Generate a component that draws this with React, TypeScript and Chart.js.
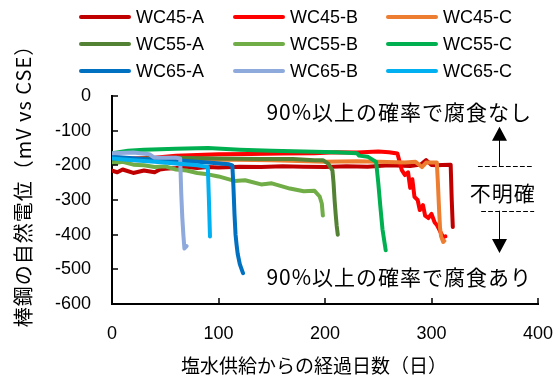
import React, { useEffect, useRef } from "react";
import { Chart, registerables } from "chart.js";

Chart.register(...registerables);

// ---- data (days since salt-water supply, half-cell potential mV vs CSE) ----
const seriesLabels = ["WC45-A", "WC45-B", "WC45-C", "WC55-A", "WC55-B", "WC55-C", "WC65-A", "WC65-B", "WC65-C"];
const seriesColors = ["#C00000", "#FF0000", "#ED7D31", "#548235", "#70AD47", "#00B050", "#0070C0", "#8EA9DB", "#00B0F0"];

const wc45aDay = [0, 5, 10, 20, 30, 40, 45, 50, 60, 70, 80, 90, 100, 120, 140, 160, 180, 200, 220, 240, 260, 280, 290, 295, 300, 305, 310, 318, 319, 320];
const wc45aMv = [-215, -220, -212, -222, -215, -220, -212, -210, -208, -205, -208, -205, -206, -204, -205, -203, -204, -205, -203, -204, -200, -202, -198, -185, -199, -200, -199, -198, -300, -378];

const wc45bDay = [0, 20, 40, 60, 80, 100, 130, 160, 190, 210, 230, 250, 260, 268, 272, 275, 278, 280, 282, 284, 287, 289, 292, 294, 297, 300, 303, 305, 308, 311, 313];
const wc45bMv = [-185, -180, -178, -172, -170, -168, -167, -166, -165, -162, -163, -160, -162, -166, -213, -228, -220, -265, -240, -291, -300, -329, -315, -345, -352, -340, -365, -372, -390, -407, -405];

const wc45cDay = [0, 50, 100, 150, 200, 230, 250, 275, 285, 291, 295, 300, 305, 306, 307, 308, 309, 311, 312];
const wc45cMv = [-185, -185, -183, -185, -190, -188, -190, -192, -190, -205, -192, -192, -192, -250, -320, -380, -405, -421, -418];

const wc55aDay = [0, 30, 60, 100, 140, 170, 190, 198, 203, 207, 208, 209, 210, 211, 212];
const wc55aMv = [-185, -180, -178, -180, -182, -182, -185, -185, -195, -215, -250, -300, -340, -375, -400];

const wc55bDay = [0, 10, 20, 30, 40, 50, 60, 70, 80, 90, 100, 115, 125, 140, 150, 167, 180, 190, 195, 197, 198];
const wc55bMv = [-195, -190, -198, -200, -205, -203, -212, -215, -222, -226, -232, -245, -243, -255, -252, -267, -275, -273, -290, -310, -345];

const wc55cDay = [0, 15, 30, 60, 90, 120, 150, 180, 210, 230, 232, 240, 248, 250, 252, 254, 257];
const wc55cMv = [-165, -158, -155, -152, -150, -155, -158, -160, -162, -165, -172, -175, -190, -250, -320, -385, -445];

const wc65aDay = [0, 30, 60, 90, 110, 113, 114, 115, 116, 117, 118, 120, 123];
const wc65aMv = [-175, -182, -185, -192, -197, -200, -260, -340, -400, -430, -455, -485, -511];

const wc65bDay = [0, 20, 35, 40, 60, 64, 65, 66, 67, 68, 70];
const wc65bMv = [-165, -163, -168, -178, -178, -180, -280, -350, -400, -440, -433];

const wc65cDay = [0, 20, 40, 60, 80, 90, 91, 92];
const wc65cMv = [-180, -185, -190, -195, -200, -205, -300, -405];

const seriesDays = [wc45aDay, wc45bDay, wc45cDay, wc55aDay, wc55bDay, wc55cDay, wc65aDay, wc65bDay, wc65cDay];
const seriesMv = [wc45aMv, wc45bMv, wc45cMv, wc55aMv, wc55bMv, wc55cMv, wc65aMv, wc65bMv, wc65cMv];

const xTickStep = 100;
const yTickStep = 100;

const yTitle = "棒鋼の自然電位（mV vs CSE）";
const xTitle = "塩水供給からの経過日数（日）";
const noteSafe = "90%以上の確率で腐食なし";
const noteRisk = "90%以上の確率で腐食あり";
const noteUnclear = "不明確";
// thresholds (mV)
const upperThreshold = -202;
const lowerThreshold = -332;

const LATIN = "'Liberation Sans', Arial, sans-serif";
const CJK = "'Noto Sans CJK JP', sans-serif";

const decorPlugin = {
  id: "decor",
  afterDraw(chart: any) {
    const { ctx, chartArea, scales } = chart;
    const xs = scales.x;
    const ys = scales.y;
    ctx.save();
    // inside tick marks
    ctx.strokeStyle = "#000";
    ctx.lineWidth = 1.5;
    for (let v = 0; v >= -600; v -= yTickStep) {
      const py = Math.round(ys.getPixelForValue(v));
      ctx.beginPath();
      ctx.moveTo(chartArea.left, py);
      ctx.lineTo(chartArea.left + 6, py);
      ctx.stroke();
    }
    for (let d = 0; d <= 400; d += xTickStep) {
      const px = Math.round(xs.getPixelForValue(d));
      ctx.beginPath();
      ctx.moveTo(px, chartArea.bottom);
      ctx.lineTo(px, chartArea.bottom - 6);
      ctx.stroke();
    }

    // legend (3 x 3 grid)
    const colX = [80, 234, 387];
    ctx.font = `18px ${LATIN}`;
    ctx.textBaseline = "middle";
    ctx.textAlign = "left";
    seriesLabels.forEach((lab, i) => {
      const cx = colX[i % 3];
      const cy = 17 + Math.floor(i / 3) * 27;
      ctx.strokeStyle = seriesColors[i];
      ctx.lineWidth = 4;
      ctx.lineCap = "round";
      ctx.beginPath();
      ctx.moveTo(cx + 1, cy);
      ctx.lineTo(cx + 49, cy);
      ctx.stroke();
      ctx.fillStyle = "#000";
      ctx.fillText(lab, cx + 56, cy + 1);
    });

    // axis titles
    ctx.fillStyle = "#000";
    ctx.font = `19px ${CJK}`;
    ctx.textAlign = "center";
    ctx.textBaseline = "middle";
    ctx.fillText(xTitle, 314, 366);
    ctx.save();
    ctx.translate(23, 181);
    ctx.rotate(-Math.PI / 2);
    ctx.font = `20px ${CJK}`;
    (ctx as any).letterSpacing = "1px";
    ctx.fillText(yTitle, 0, 0);
    ctx.restore();

    // annotations
    ctx.font = `21px ${CJK}`;
    (ctx as any).letterSpacing = "1px";
    ctx.textAlign = "left";
    ctx.fillText(noteSafe, xs.getPixelForValue(145), ys.getPixelForValue(-46));
    ctx.fillText(noteRisk, xs.getPixelForValue(145), ys.getPixelForValue(-522));
    ctx.textAlign = "center";
    ctx.fillText(noteUnclear, xs.getPixelForValue(367), ys.getPixelForValue(-280));
    (ctx as any).letterSpacing = "0px";

    const ax = Math.round(xs.getPixelForValue(363)) + 0.5;
    const yUp = ys.getPixelForValue(upperThreshold);
    const yLo = ys.getPixelForValue(lowerThreshold);
    ctx.strokeStyle = "#000";
    ctx.lineWidth = 1;
    ctx.setLineDash([4, 3]);
    ctx.beginPath();
    ctx.moveTo(xs.getPixelForValue(344), Math.round(yUp) + 0.5);
    ctx.lineTo(xs.getPixelForValue(394), Math.round(yUp) + 0.5);
    ctx.moveTo(xs.getPixelForValue(347), Math.round(yLo) + 0.5);
    ctx.lineTo(xs.getPixelForValue(396), Math.round(yLo) + 0.5);
    ctx.stroke();
    ctx.setLineDash([]);

    const tipUp = ys.getPixelForValue(-89);
    const tipDn = ys.getPixelForValue(-453);
    ctx.beginPath();
    ctx.moveTo(ax, yUp);
    ctx.lineTo(ax, tipUp + 12);
    ctx.moveTo(ax, yLo);
    ctx.lineTo(ax, tipDn - 12);
    ctx.stroke();
    ctx.beginPath();
    ctx.moveTo(ax, tipUp);
    ctx.lineTo(ax - 7.5, tipUp + 14);
    ctx.lineTo(ax + 7.5, tipUp + 14);
    ctx.closePath();
    ctx.moveTo(ax, tipDn);
    ctx.lineTo(ax - 7.5, tipDn - 14);
    ctx.lineTo(ax + 7.5, tipDn - 14);
    ctx.closePath();
    ctx.fillStyle = "#000";
    ctx.fill();
    ctx.restore();
  },
};

export default function App() {
  const canvasRef = useRef<HTMLCanvasElement | null>(null);

  useEffect(() => {
    const canvas = canvasRef.current;
    if (!canvas) return;
    const datasets = seriesLabels.map((label, i) => ({
      label,
      data: seriesDays[i].map((d, k) => ({ x: d, y: seriesMv[i][k] })),
      borderColor: seriesColors[i],
      backgroundColor: seriesColors[i],
      borderWidth: 4,
      pointRadius: 0,
      tension: 0,
      fill: false,
      borderJoinStyle: "round" as const,
      borderCapStyle: "round" as const,
      order: seriesLabels.length - i,
    }));
    const chart = new Chart(canvas, {
      type: "line",
      data: { datasets },
      options: {
        animation: false,
        responsive: true,
        maintainAspectRatio: false,
        parsing: false as any,
        layout: { padding: { top: 96, right: 22, left: 0, bottom: 0 } },
        plugins: { legend: { display: false }, tooltip: { enabled: false } },
        scales: {
          x: {
            type: "linear",
            min: 0,
            max: 400,
            grid: { display: false, drawTicks: false },
            border: { display: true, color: "#000", width: 2 },
            ticks: { stepSize: xTickStep, color: "#000", padding: 19, font: { family: LATIN, size: 18 } },
            afterFit: (s: any) => { s.height = 77; s.paddingLeft = 0; s.paddingRight = 0; },
          },
          y: {
            type: "linear",
            min: -600,
            max: 0,
            grid: { display: false, drawTicks: false },
            border: { display: true, color: "#000", width: 2 },
            ticks: { stepSize: yTickStep, color: "#000", padding: 21, font: { family: LATIN, size: 18 } },
            afterFit: (s: any) => { s.width = 112; s.paddingTop = 0; s.paddingBottom = 0; },
          },
        },
      },
      plugins: [decorPlugin],
    });
    return () => chart.destroy();
  }, []);

  return (
    <div style={{ position: "fixed", left: 0, top: 0, width: 560, height: 381, background: "#fff" }}>
      <canvas ref={canvasRef} />
    </div>
  );
}
